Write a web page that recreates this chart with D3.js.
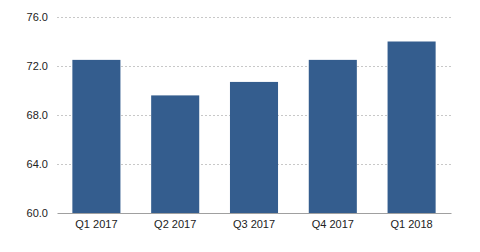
<!DOCTYPE html>
<html>
<head>
<meta charset="utf-8">
<script src="https://cdn.jsdelivr.net/npm/d3@7"></script>
<style>
  body { margin: 0; background: #fff; }
  text { font-family: "Liberation Sans", Arial, sans-serif; }
</style>
</head>
<body>
<svg id="chart" width="480" height="252"></svg>
<script>
// quarters and values
var quarters = ["Q1 2017", "Q2 2017", "Q3 2017", "Q4 2017", "Q1 2018"]
var values = [72.5, 69.6, 70.7, 72.5, 74.0]
var yTicks = [60, 64, 68, 72, 76]

var svg = d3.select("#chart")
var plotLeft = 57, plotRight = 451, plotTop = 17, plotBottom = 213

var x = d3.scaleBand().domain(quarters).range([plotLeft, plotRight]).paddingInner(0.39).paddingOuter(0.195)
var y = d3.scaleLinear().domain([60, 76]).range([plotBottom, plotTop])

// dashed gridlines
svg.append("g")
    .selectAll("line")
    .data(yTicks.filter(function (d) { return d > 60 }))
    .join("line")
    .attr("x1", plotLeft).attr("x2", plotRight)
    .attr("y1", function (d) { return y(d) + 0.5 })
    .attr("y2", function (d) { return y(d) + 0.5 })
    .attr("stroke", "#c8c8c8")
    .attr("stroke-dasharray", "2,2")

// bars
svg.append("g")
    .selectAll("rect")
    .data(values)
    .join("rect")
    .attr("x", function (d, i) { return x(quarters[i]) })
    .attr("width", x.bandwidth())
    .attr("y", function (d) { return y(d) })
    .attr("height", function (d) { return y(60) - y(d) })
    .attr("fill", "#345d8e")

// y axis labels
var yAxis = svg.append("g")
    .attr("transform", "translate(" + plotLeft + ",0)")
    .call(d3.axisLeft(y).tickValues(yTicks).tickFormat(d3.format(".1f")).tickSize(0).tickPadding(9))
yAxis.select(".domain").remove()
yAxis.selectAll("text").attr("font-size", 11).attr("fill", "#222").style("font-family", "'Liberation Sans', Arial, sans-serif")

// x axis
var xAxis = svg.append("g")
    .attr("transform", "translate(0," + plotBottom + ")")
    .call(d3.axisBottom(x).tickSize(0).tickPadding(7))
xAxis.select(".domain").attr("stroke", "#a0a0a0")
xAxis.selectAll("text").attr("font-size", 11).attr("fill", "#222").style("font-family", "'Liberation Sans', Arial, sans-serif")
</script>
</body>
</html>
